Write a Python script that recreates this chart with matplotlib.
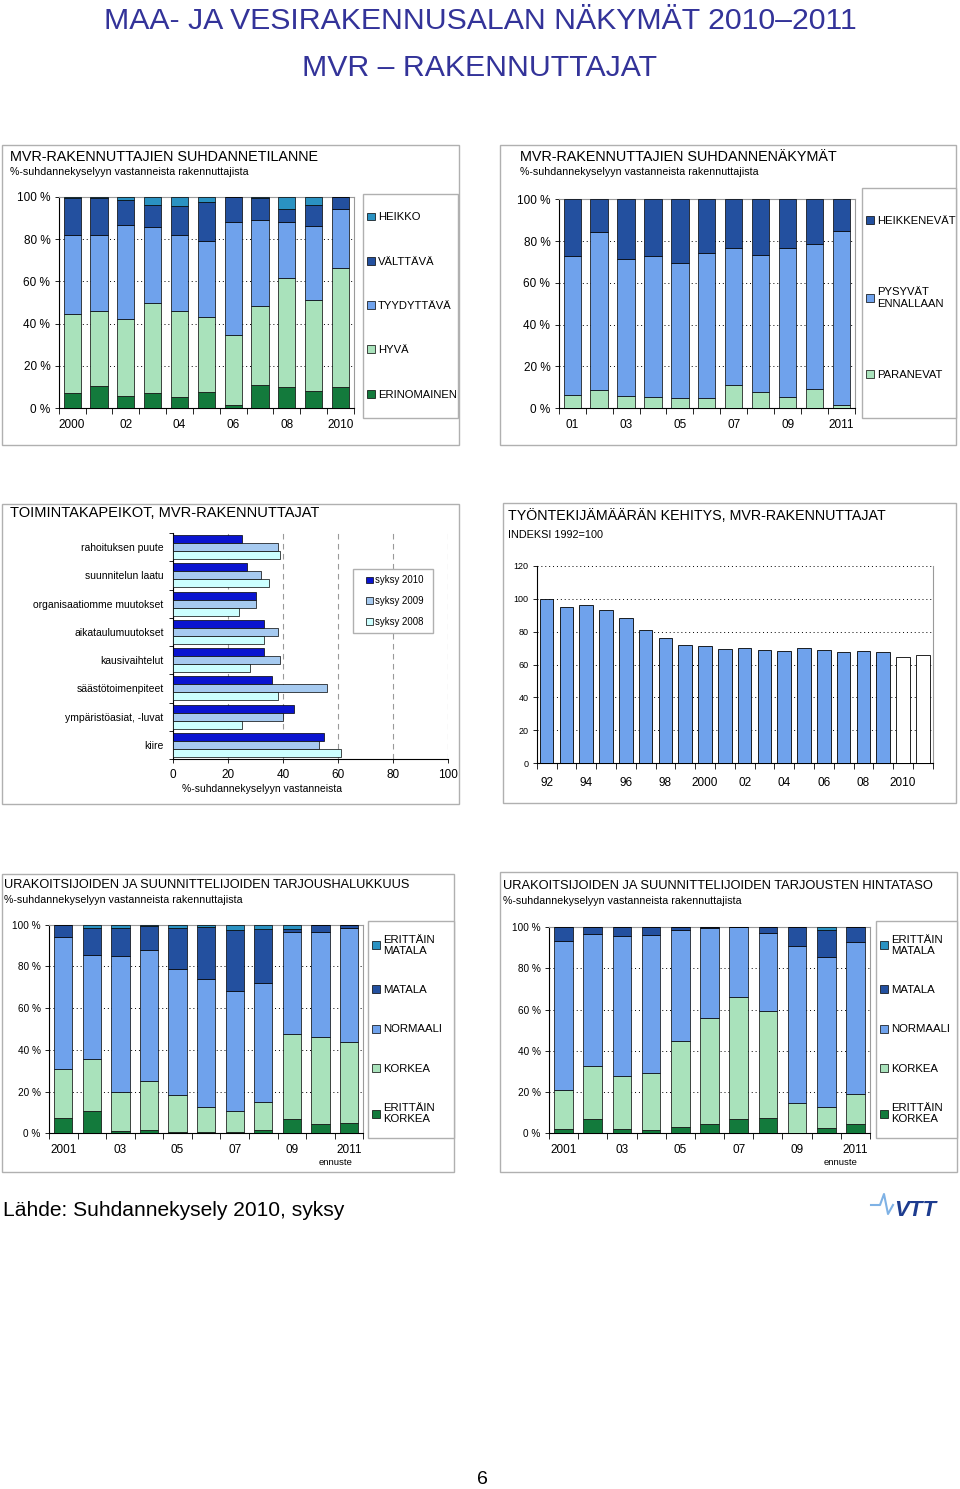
import matplotlib
matplotlib.use('Agg')
import matplotlib.pyplot as plt
import numpy as np
from matplotlib.patches import Rectangle
from matplotlib.lines import Line2D

plt.rcParams['font.family'] = ['Liberation Sans', 'DejaVu Sans']

# ---- data ----
years_a = ['2000', '01', '02', '03', '04', '05', '06', '07', '08', '09', '2010']
tilanne_erinomainen = [7.1, 10.4, 5.8, 7.1, 5.4, 7.6, 1.6, 11.0, 10.2, 8.0, 9.9]
tilanne_hyva = [37.5, 35.7, 36.6, 42.8, 40.6, 35.7, 33.2, 37.2, 51.5, 43.0, 56.6]
tilanne_tyydyttava = [37.3, 35.8, 44.2, 35.6, 35.9, 35.9, 53.2, 40.9, 26.3, 35.3, 27.7]
tilanne_valttava = [17.6, 17.3, 11.8, 10.6, 13.8, 18.1, 12.0, 10.3, 6.3, 9.9, 5.8]
tilanne_heikko = [0.5, 0.8, 1.6, 3.9, 4.3, 2.7, 0.0, 0.6, 5.7, 3.8, 0.0]

years_b = ['01', '02', '03', '04', '05', '06', '07', '08', '09', '10', '2011']
nakymat_paranevat = [6.2, 8.9, 5.9, 5.3, 4.9, 4.8, 11.2, 7.7, 5.4, 9.3, 1.4]
nakymat_pysyvat = [66.7, 75.3, 65.7, 67.7, 64.8, 69.7, 65.5, 65.8, 71.5, 69.5, 83.4]
nakymat_heikkenevat = [27.1, 15.8, 28.4, 27.0, 30.3, 25.5, 23.3, 26.5, 23.1, 21.2, 15.2]

kapeikot = ['rahoituksen puute', 'suunnitelun laatu', 'organisaatiomme muutokset',
            'aikataulumuutokset', 'kausivaihtelut', 'säästötoimenpiteet',
            'ympäristöasiat, -luvat', 'kiire']
syksy_2010 = [25, 27, 30, 33, 33, 36, 44, 55]
syksy_2009 = [38, 32, 30, 38, 39, 56, 40, 53]
syksy_2008 = [39, 35, 24, 33, 28, 38, 25, 61]

years_c = ['92', '93', '94', '95', '96', '97', '98', '99', '2000', '01',
           '02', '03', '04', '05', '06', '07', '08', '09', '2010', '11']
indeksi = [100, 94.9, 96, 93.1, 88, 81, 76.3, 71.7, 71, 69.6,
           70, 69, 68.2, 69.8, 68.6, 67.4, 68, 67.4, 64.8, 66]
ennuste_from = 18  # 2010 and 2011 are drawn white

years_d = ['2001', '02', '03', '04', '05', '06', '07', '08', '09', '10', '2011']
halu_ek = [7.2, 10.7, 1.0, 1.4, 0.6, 0.6, 0.5, 1.6, 6.7, 4.5, 5.0]
halu_k = [23.5, 24.8, 19.0, 23.5, 17.9, 11.9, 10.0, 13.3, 40.7, 41.5, 38.9]
halu_n = [63.5, 49.8, 65.1, 63.0, 60.4, 61.6, 57.9, 57.1, 49.2, 50.6, 54.3]
halu_m = [5.8, 13.3, 13.5, 11.5, 19.3, 24.8, 28.9, 25.8, 1.2, 3.4, 1.8]
halu_em = [0.0, 1.4, 1.4, 0.6, 1.8, 1.1, 2.7, 2.2, 2.2, 0.0, 0.0]

hinta_ek = [1.9, 6.9, 1.9, 1.6, 3.2, 4.5, 6.9, 7.3, 0.0, 2.6, 4.5]
hinta_k = [19.3, 25.9, 26.0, 27.5, 41.4, 51.2, 59.3, 52.0, 14.5, 10.0, 14.4]
hinta_n = [71.8, 63.6, 67.9, 67.2, 53.8, 43.7, 33.8, 37.6, 76.5, 72.9, 73.7]
hinta_m = [7.0, 3.6, 4.2, 3.7, 1.6, 0.6, 0.0, 3.1, 9.0, 13.2, 7.4]
hinta_em = [0.0, 0.0, 0.0, 0.0, 0.0, 0.0, 0.0, 0.0, 0.0, 1.3, 0.0]

C_EXC = '#137a3c'
C_GOOD = '#a9e2bb'
C_MID = '#6fa2ec'
C_LOW = '#23509f'
C_VLOW = '#2a92c2'

W, H = 960, 1489
fig = plt.figure(figsize=(W / 100, H / 100), dpi=100)


def fax(x0, y0, x1, y1):
    return fig.add_axes([x0 / W, 1 - y1 / H, (x1 - x0) / W, (y1 - y0) / H])


def box(x0, y0, x1, y1, color='#b0b0b0', lw=1.0, fill=False):
    fig.add_artist(Rectangle((x0 / W, 1 - y1 / H), (x1 - x0) / W, (y1 - y0) / H,
                             transform=fig.transFigure, fill=fill, fc='white',
                             ec=color, lw=lw, zorder=2))


def ftext(x, y, s, **kw):
    kw.setdefault('va', 'center')
    fig.text(x / W, 1 - y / H, s, **kw)


def style_spines(ax):
    for s in ['left', 'bottom']:
        ax.spines[s].set_color('black')
        ax.spines[s].set_linewidth(0.8)
    for s in ['top', 'right']:
        ax.spines[s].set_color('#9a9a9a')
        ax.spines[s].set_linewidth(0.8)


def stacked(rect, labels, series, colors, ytick_fs):
    ax = fax(*rect)
    x = np.arange(len(labels))
    bottom = np.zeros(len(x))
    handles = []
    for vals, col in zip(series, colors):
        h = ax.bar(x, vals, 0.64, bottom=bottom, color=col, edgecolor='black',
                   linewidth=0.5, zorder=3)
        bottom = bottom + np.array(vals)
        handles.append(h)
    ax.set_xlim(-0.5, len(x) - 0.5)
    ax.set_ylim(0, 100)
    ax.set_yticks(np.arange(0, 101, 20), [f'{v} %' for v in range(0, 101, 20)])
    ax.set_xticks(x[::2], labels[::2])
    ax.set_xticks(np.arange(-0.5, len(x)), minor=True)
    ax.tick_params(axis='x', which='major', length=0, labelsize=8.5, pad=8)
    ax.tick_params(axis='x', which='minor', length=4, width=0.6)
    ax.tick_params(axis='y', length=3, width=0.6, labelsize=ytick_fs, pad=3)
    ax.yaxis.grid(True, ls=(0, (1, 3)), color='black', lw=0.7)
    ax.set_axisbelow(True)
    style_spines(ax)
    return ax, handles


def legend_box(rect, handles, names, fs, spacing, inset=2, dy=0):
    x0, y0, x1, y1 = rect
    box(x0, y0, x1, y1, color='#b0b0b0', fill=True)
    leg = fig.legend(handles, names, loc='center left',
                     bbox_to_anchor=((x0 + inset) / W, 1 - ((y0 + y1) / 2 + dy) / H),
                     frameon=False, fontsize=fs, labelspacing=spacing,
                     handlelength=0.7, handleheight=0.7, handletextpad=0.25,
                     borderpad=0.2, borderaxespad=0)
    leg.set_zorder(5)


# ---- page titles ----
ftext(480, 21, 'MAA- JA VESIRAKENNUSALAN NÄKYMÄT 2010–2011', ha='center',
      fontsize=21.8, color='#333399')
ftext(480, 68, 'MVR – RAKENNUTTAJAT', ha='center', fontsize=21.8, color='#333399')

# ---- panel 1 ----
box(2, 145, 459, 445)
ftext(10, 157, 'MVR-RAKENNUTTAJIEN SUHDANNETILANNE', fontsize=10.4)
ftext(10, 172, '%-suhdannekyselyyn vastanneista rakennuttajista', fontsize=7.7)
ax1, h1 = stacked((58.7, 196.7, 354, 408.3), years_a,
                  [tilanne_erinomainen, tilanne_hyva, tilanne_tyydyttava,
                   tilanne_valttava, tilanne_heikko],
                  [C_EXC, C_GOOD, C_MID, C_LOW, C_VLOW], 8.5)
legend_box((363, 194, 458, 418), h1[::-1],
           ['HEIKKO', 'VÄLTTÄVÄ', 'TYYDYTTÄVÄ', 'HYVÄ', 'ERINOMAINEN'], 8.1, 3.05)

# ---- panel 2 ----
box(500, 145, 956, 445)
ftext(520, 157, 'MVR-RAKENNUTTAJIEN SUHDANNENÄKYMÄT', fontsize=10.4)
ftext(520, 172, '%-suhdannekyselyyn vastanneista rakennuttajista', fontsize=7.7)
ax2, h2 = stacked((558.7, 199.3, 855, 408.3), years_b,
                  [nakymat_paranevat, nakymat_pysyvat, nakymat_heikkenevat],
                  [C_GOOD, C_MID, C_LOW], 8.5)
legend_box((862, 188, 956, 418), h2[::-1],
           ['HEIKKENEVÄT', 'PYSYVÄT\nENNALLAAN', 'PARANEVAT'], 8.1, 5.45, dy=-5)

# ---- panel 3 ----
box(2, 504, 459, 804)
ftext(10, 513, 'TOIMINTAKAPEIKOT, MVR-RAKENNUTTAJAT', fontsize=10.5)
ax3 = fax(173.3, 533, 447.7, 759)
yy = np.arange(len(kapeikot))
bh = 0.285
hb1 = ax3.barh(yy - bh, syksy_2010, bh, color='#0a14d0', edgecolor='black', lw=0.5, zorder=3)
hb2 = ax3.barh(yy, syksy_2009, bh, color='#a6caf0', edgecolor='black', lw=0.5, zorder=3)
hb3 = ax3.barh(yy + bh, syksy_2008, bh, color='#ccffff', edgecolor='black', lw=0.5, zorder=3)
ax3.set_ylim(len(kapeikot) - 0.5, -0.5)
ax3.set_xlim(0, 100)
ax3.set_yticks(yy, kapeikot)
ax3.set_yticks(np.arange(-0.5, len(kapeikot)), minor=True)
ax3.tick_params(axis='y', which='major', length=0, labelsize=7.5, pad=7)
ax3.tick_params(axis='y', which='minor', length=3, width=0.6)
ax3.set_xticks(np.arange(0, 101, 20))
ax3.tick_params(axis='x', length=3, width=0.6, labelsize=8.5, pad=4)
ax3.xaxis.grid(True, ls=(0, (5, 4)), color='#9a9a9a', lw=0.8)
ax3.set_axisbelow(True)
ax3.set_xlabel('%-suhdannekyselyyn vastanneista', fontsize=7.5)
ax3.xaxis.set_label_coords(0.323, -0.11)
for s in ['top', 'right']:
    ax3.spines[s].set_visible(False)
for s in ['left', 'bottom']:
    ax3.spines[s].set_linewidth(0.8)
legend_box((353, 569, 433, 633), [hb1, hb2, hb3],
           ['syksy 2010', 'syksy 2009', 'syksy 2008'], 6.9, 1.1, inset=11)

# ---- panel 4 ----
box(503, 503, 956, 803)
ftext(508, 516, 'TYÖNTEKIJÄMÄÄRÄN KEHITYS, MVR-RAKENNUTTAJAT', fontsize=10.3)
ftext(508, 535, 'INDEKSI 1992=100', fontsize=7.8)
ax4 = fax(536.7, 565.7, 932.7, 763.3)
xc = np.arange(len(years_c))
cols4 = [C_MID if i < ennuste_from else 'white' for i in xc]
ax4.bar(xc, indeksi, 0.68, color=cols4, edgecolor='black', linewidth=0.6, zorder=3)
ax4.set_xlim(-0.5, len(xc) - 0.5)
ax4.set_ylim(0, 120)
ax4.set_yticks(np.arange(0, 121, 20))
ax4.set_xticks(xc[::2], years_c[::2])
ax4.set_xticks(np.arange(-0.5, len(xc)), minor=True)
ax4.tick_params(axis='x', which='major', length=0, labelsize=8.5, pad=10)
ax4.tick_params(axis='x', which='minor', length=4, width=0.6)
ax4.tick_params(axis='y', length=3, width=0.6, labelsize=6.5, pad=3)
ax4.yaxis.grid(True, ls=(0, (1, 3)), color='black', lw=0.7)
ax4.set_axisbelow(True)
style_spines(ax4)
ax4.spines['top'].set_visible(False)

# ---- panel 5 ----
box(2, 874, 454, 1172)
ftext(4, 885, 'URAKOITSIJOIDEN JA SUUNNITTELIJOIDEN TARJOUSHALUKKUUS', fontsize=9.2)
ftext(4, 900, '%-suhdannekyselyyn vastanneista rakennuttajista', fontsize=7.7)
ax5, h5 = stacked((49, 924.7, 363.3, 1133.3), years_d,
                  [halu_ek, halu_k, halu_n, halu_m, halu_em],
                  [C_EXC, C_GOOD, C_MID, C_LOW, C_VLOW], 7.2)
ax5.annotate('ennuste', xy=(10, 0), xycoords=('data', 'axes fraction'),
             xytext=(-10, -23), textcoords='offset points', ha='center', fontsize=6.8)
names56 = ['ERITTÄIN\nMATALA', 'MATALA', 'NORMAALI', 'KORKEA', 'ERITTÄIN\nKORKEA']
legend_box((368, 921, 454, 1138), h5[::-1], names56, 8.2, 2.56)

# ---- panel 6 ----
box(500, 872, 957, 1172)
ftext(503, 886, 'URAKOITSIJOIDEN JA SUUNNITTELIJOIDEN TARJOUSTEN HINTATASO', fontsize=9.25)
ftext(503, 901, '%-suhdannekyselyyn vastanneista rakennuttajista', fontsize=7.7)
ax6, h6 = stacked((549, 927, 870, 1133.3), years_d,
                  [hinta_ek, hinta_k, hinta_n, hinta_m, hinta_em],
                  [C_EXC, C_GOOD, C_MID, C_LOW, C_VLOW], 7.2)
ax6.annotate('ennuste', xy=(10, 0), xycoords=('data', 'axes fraction'),
             xytext=(-11, -23), textcoords='offset points', ha='center', fontsize=6.8)
legend_box((876, 921, 957, 1138), h6[::-1], names56, 8.2, 2.56)

# ---- footer ----
ftext(3, 1210, 'Lähde: Suhdannekysely 2010, syksy', fontsize=15.1)
fig.add_artist(Line2D(np.array([871, 880, 884, 888, 893]) / W,
                      1 - np.array([1205, 1205, 1194, 1214, 1205]) / H,
                      transform=fig.transFigure, color='#7fb2e5', lw=1.5))
ftext(915, 1211, 'VTT', ha='center', fontsize=16, fontweight='bold',
      fontstyle='italic', color='#1d3c8f')
ftext(482, 1479, '6', ha='center', fontsize=14)

fig.savefig('out.png', dpi=100)
